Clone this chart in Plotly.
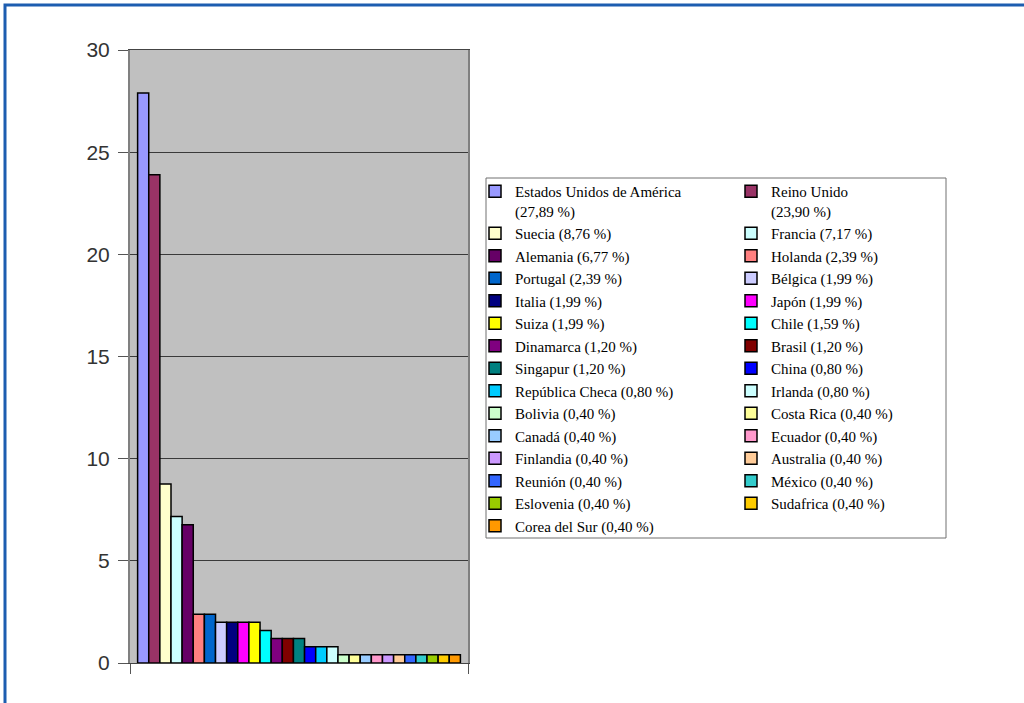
import plotly.graph_objects as go

countries = ["Estados Unidos de América", "Reino Unido", "Suecia", "Francia", "Alemania",
             "Holanda", "Portugal", "Bélgica", "Italia", "Japón", "Suiza", "Chile",
             "Dinamarca", "Brasil", "Singapur", "China", "República Checa", "Irlanda",
             "Bolivia", "Costa Rica", "Canadá", "Ecuador", "Finlandia", "Australia",
             "Reunión", "México", "Eslovenia", "Sudafrica", "Corea del Sur"]
values = [27.89, 23.90, 8.76, 7.17, 6.77, 2.39, 2.39, 1.99, 1.99, 1.99, 1.99, 1.59,
          1.20, 1.20, 1.20, 0.80, 0.80, 0.80, 0.40, 0.40, 0.40, 0.40, 0.40, 0.40,
          0.40, 0.40, 0.40, 0.40, 0.40]
colors = ["#9999FF", "#993366", "#FFFFCC", "#CCFFFF", "#660066", "#FF8080", "#0066CC",
          "#CCCCFF", "#000080", "#FF00FF", "#FFFF00", "#00FFFF", "#800080", "#800000",
          "#008080", "#0000FF", "#00CCFF", "#CCFFFF", "#CCFFCC", "#FFFF99", "#99CCFF",
          "#FF99CC", "#CC99FF", "#FFCC99", "#3366FF", "#33CCCC", "#99CC00", "#FFCC00",
          "#FF9900"]
y_ticks = [0, 5, 10, 15, 20, 25, 30]


def fmt(v):
    return ("%.2f" % v).replace(".", ",") + " %"


def label(name, v):
    if name in ("Estados Unidos de América", "Reino Unido"):
        return f"{name}<br>({fmt(v)})"
    return f"{name} ({fmt(v)})"


fig = go.Figure()
for i, (name, v, c) in enumerate(zip(countries, values, colors)):
    fig.add_trace(go.Bar(
        x=["c"], y=[v], name=label(name, v),
        legend="legend" if i % 2 == 0 else "legend2",
        marker=dict(color=c, line=dict(color="black", width=1.5)),
        hoverinfo="name+y",
    ))

W, H = 1024, 703
L, R, T, B = 130, 1024 - 468, 50, 703 - 663
pw, ph = W - L - R, H - T - B


def px(x):
    return (x - L) / pw


def py(y):
    return (H - B - y) / ph


leg_font = dict(family="Liberation Serif", size=15, color="black")
leg_common = dict(orientation="v", yanchor="top", xanchor="left",
                  bgcolor="rgba(0,0,0,0)", borderwidth=0, font=leg_font,
                  valign="top", traceorder="normal")

fig.update_layout(
    width=W, height=H,
    margin=dict(l=L, r=R, t=T, b=B),
    barmode="group", bargap=0.045, bargroupgap=0,
    plot_bgcolor="#C0C0C0", paper_bgcolor="white",
    showlegend=True,
    legend=dict(x=px(475), y=py(175), **leg_common),
    legend2=dict(x=px(731), y=py(175), **leg_common),
    xaxis=dict(
        showticklabels=False, ticks="outside", tickson="boundaries", ticklen=10,
        tickcolor="#555555", showline=True, linecolor="#444444", linewidth=1,
        mirror=True, showgrid=False, fixedrange=True,
    ),
    yaxis=dict(
        range=[0, 30], tickvals=y_ticks, ticks="outside", ticklen=10,
        tickcolor="#555555", showline=True, linecolor="#808080", linewidth=2,
        mirror=True, showgrid=True, gridcolor="#3A3A3A", gridwidth=1,
        zeroline=False, tickfont=dict(family="Liberation Sans", size=21, color="#333333"),
        ticklabelstandoff=4,
    ),
    shapes=[
        dict(type="rect", xref="paper", yref="paper",
             x0=px(5), x1=px(1035), y0=py(715), y1=py(5),
             line=dict(color="#1C5DB0", width=3), fillcolor="rgba(0,0,0,0)",
             layer="above"),
        dict(type="rect", xref="paper", yref="paper",
             x0=px(486), x1=px(946), y0=py(538), y1=py(178),
             line=dict(color="#707070", width=1), fillcolor="white",
             layer="above"),
    ],
)

fig.write_html("out.html", config={"displayModeBar": False},
               post_script="document.body.style.margin='0px';")
